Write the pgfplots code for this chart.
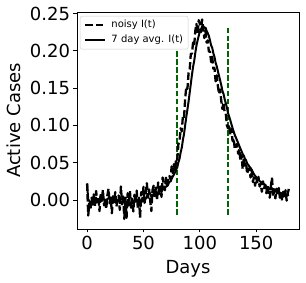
\documentclass[border=0pt]{standalone}
\usepackage{fontspec}
\setmainfont{DejaVu Sans}
\usepackage{pgfplots}
\usepackage{pgfplotstable}
\pgfplotsset{compat=1.18}
\definecolor{dkgreen}{HTML}{006400}
\pgfplotstableread{
day noisy avg
0 0.0220 0.0220
1 -0.0210 0.0005
2 -0.0045 -0.0012
3 -0.0135 -0.0043
4 0.0030 -0.0028
5 -0.0060 -0.0033
6 0.0075 -0.0018
7 -0.0090 -0.0062
8 0.0120 -0.0015
9 -0.0030 -0.0014
10 0.0045 0.0014
11 -0.0150 -0.0014
12 0.0090 0.0009
13 -0.0015 -0.0005
14 0.0135 0.0029
15 -0.0075 0.0000
16 0.0015 0.0006
17 -0.0120 -0.0017
18 0.0060 0.0014
19 0.0150 0.0021
20 -0.0045 0.0017
21 0.0030 0.0002
22 -0.0180 -0.0014
23 0.0075 -0.0005
24 -0.0030 0.0009
25 0.0105 0.0015
26 -0.0090 -0.0020
27 0.0000 -0.0014
28 0.0060 -0.0009
29 -0.0135 -0.0002
30 0.0180 0.0014
31 -0.0060 0.0009
32 0.0045 0.0000
33 -0.0255 -0.0024
34 0.0030 -0.0020
35 -0.0240 -0.0062
36 0.0090 -0.0030
37 -0.0075 -0.0066
38 0.0120 -0.0041
39 -0.0105 -0.0062
40 0.0015 -0.0024
41 -0.0155 -0.0050
42 0.0070 -0.0006
43 -0.0035 -0.0024
44 0.0125 0.0005
45 -0.0115 -0.0029
46 0.0050 -0.0006
47 -0.0240 -0.0043
48 0.0105 -0.0006
49 -0.0020 -0.0019
50 0.0175 0.0011
51 -0.0040 -0.0012
52 0.0095 0.0018
53 0.0225 0.0043
54 0.0030 0.0081
55 0.0140 0.0086
56 -0.0015 0.0087
57 -0.0150 0.0041
58 0.0130 0.0065
59 0.0190 0.0079
60 0.0035 0.0051
61 0.0165 0.0071
62 -0.0005 0.0050
63 0.0235 0.0086
64 0.0080 0.0119
65 0.0180 0.0126
66 0.0040 0.0104
67 0.0300 0.0142
68 0.0185 0.0145
69 0.0130 0.0164
70 0.0315 0.0176
71 0.016 0.0187
72 0.032 0.0207
73 0.032 0.0247
74 0.028 0.0244
75 0.045 0.0282
76 0.036 0.0315
77 0.048 0.0339
78 0.039 0.0371
79 0.056 0.0406
80 0.054 0.0437
81 0.075 0.0504
82 0.079 0.0553
83 0.096 0.0639
84 0.092 0.0701
85 0.113 0.0807
86 0.111 0.0886
87 0.136 0.1003
88 0.152 0.1113
89 0.149 0.1213
90 0.170 0.1319
91 0.175 0.1437
92 0.196 0.1556
93 0.196 0.1677
94 0.211 0.1784
95 0.207 0.1863
96 0.227 0.1974
97 0.236 0.2069
98 0.223 0.2137
99 0.241 0.2201
100 0.236 0.2259
101 0.225 0.2279
102 0.242 0.2329
103 0.230 0.2333
104 0.217 0.2306
105 0.227 0.2311
106 0.211 0.2269
107 0.214 0.2237
108 0.199 0.2200
109 0.199 0.2139
110 0.185 0.2074
111 0.192 0.2039
112 0.176 0.1966
113 0.177 0.1917
114 0.159 0.1839
115 0.167 0.1793
116 0.153 0.1727
117 0.142 0.1666
118 0.148 0.1603
119 0.133 0.1541
120 0.122 0.1463
121 0.131 0.1423
122 0.117 0.1351
123 0.116 0.1299
124 0.100 0.1239
125 0.096 0.1164
126 0.101 0.1119
127 0.087 0.1069
128 0.095 0.1017
129 0.079 0.0963
130 0.083 0.0916
131 0.068 0.0870
132 0.072 0.0836
133 0.075 0.0799
134 0.062 0.0763
135 0.068 0.0724
136 0.052 0.0686
137 0.060 0.0653
138 0.041 0.0614
139 0.057 0.0593
140 0.046 0.0551
141 0.049 0.0533
142 0.035 0.0486
143 0.042 0.0471
144 0.041 0.0444
145 0.030 0.0429
146 0.040 0.0404
147 0.024 0.0373
148 0.030 0.0346
149 0.019 0.0323
150 0.030 0.0306
151 0.022 0.0279
152 0.031 0.0280
153 0.018 0.0249
154 0.022 0.0246
155 0.011 0.0219
156 0.025 0.0227
157 0.016 0.0207
158 0.020 0.0204
159 0.009 0.0173
160 0.020 0.0176
161 0.010 0.0159
162 0.003 0.0147
163 0.018 0.0137
164 0.030 0.0157
165 0.005 0.0136
166 0.014 0.0143
167 0.002 0.0117
168 0.015 0.0124
169 0.006 0.0129
170 0.016 0.0126
171 0.003 0.0087
172 0.010 0.0094
173 -0.001 0.0073
174 0.011 0.0086
175 0.005 0.0071
176 0.013 0.0081
177 -0.001 0.0057
178 0.009 0.0066
179 0.015 0.0073
}\datatable
\begin{document}
\begin{tikzpicture}
\begin{axis}[
  scale only axis, width=222pt, height=217pt,
  at={(0,0)}, anchor=south west,
  xmin=-8.95, xmax=187.95, ymin=-0.039, ymax=0.252,
  xtick={0,50,100,150},
  ytick={0,0.05,0.10,0.15,0.20,0.25},
  /pgf/number format/assume math mode=true,
  yticklabel style={/pgf/number format/.cd, fixed, fixed zerofill, precision=2},
  scaled y ticks=false,
  tick label style={font=\fontsize{18}{20}\selectfont},
  tick pos=left, tick align=outside,
  major tick length=3.5pt,
  every tick/.style={black, line width=0.8pt},
  axis line style={black, line width=0.8pt},
  xlabel={Days}, ylabel={Active Cases},
  label style={font=\fontsize{18}{20}\selectfont},
  xlabel style={at={(axis description cs:0.5,-0.2028)}, anchor=base},
  ylabel style={at={(axis description cs:-0.2523,0.5)}, anchor=base},
  legend style={at={(rel axis cs:0.0135,0.9816)}, anchor=north west,
    font=\fontsize{10}{12}\selectfont, draw=black!20, rounded corners=2pt,
    fill=white, inner xsep=4pt, inner ysep=2.75pt,
    row sep=3.5pt, column sep=4pt,
    nodes={inner sep=1pt, text height=0.75em, text depth=0.25em}},
  legend cell align=left,
  legend image code/.code={\draw[#1] (0pt,0pt) -- (20pt,0pt);},
]
\addplot[dkgreen, line width=1.8pt, dash pattern=on 5.5pt off 2.4pt, forget plot] coordinates {(80,-0.02) (80,0.23)};
\addplot[dkgreen, line width=1.8pt, dash pattern=on 5.5pt off 2.4pt, forget plot] coordinates {(125,-0.02) (125,0.23)};
\addplot[black, line width=2.3pt, line join=round, dash pattern=on 7.4pt off 3.2pt] table[x=day, y=noisy] {\datatable};
\addlegendentry{noisy I(t)}
\addplot[black, line width=2pt, line join=round] table[x=day, y=avg] {\datatable};
\addlegendentry{7 day avg. I(t)}
\end{axis}
\pgfresetboundingbox
\useasboundingbox (-77pt,-54pt) rectangle (229pt,229pt);
\end{tikzpicture}
\end{document}
